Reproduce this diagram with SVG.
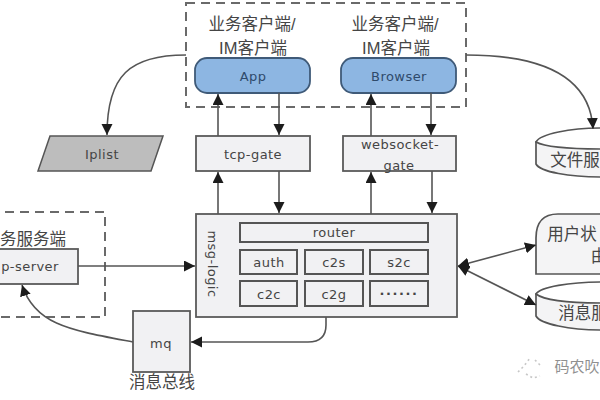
<svg xmlns="http://www.w3.org/2000/svg" width="600" height="400" viewBox="0 0 600 400">
  <style>
    text { font-family: "Liberation Sans", "Noto Sans CJK SC", sans-serif; fill: #454545; }
    .zh { font-size: 16.5px; text-anchor: middle; }
    .lat { font-family: "DejaVu Sans", "Noto Sans CJK SC", sans-serif; font-size: 13px; text-anchor: middle; letter-spacing: .45px; }
    .blue { fill: #2f4a6b; }
    .box { fill: #f1f1f3; stroke: #5a5a5a; stroke-width: 1.8; }
    .cell { fill: #f1f1f3; stroke: #555; stroke-width: 2; }
    .client { fill: #8db6e2; stroke: #3f5a78; stroke-width: 1.8; }
    .dash { fill: none; stroke: #6a6a6a; stroke-width: 2; stroke-dasharray: 9 6; }
    .wire { fill: none; stroke: #555; stroke-width: 1.6; }
    .can { fill: #f4f4f5; stroke: #555; stroke-width: 1.7; }
    .lid { fill: #fff; stroke: #555; stroke-width: 1.7; }
  </style>
  <defs>
    <marker id="tip" markerUnits="userSpaceOnUse" markerWidth="12" markerHeight="12" refX="11" refY="5.5" orient="auto-start-reverse">
      <path d="M0 0 L11 5.5 L0 11 Z" fill="#1c1c1c"/>
    </marker>
  </defs>

  <rect width="600" height="400" fill="#fff"/>

  <g id="client-zone">
    <rect class="dash" x="186" y="3" width="280" height="104"/>
    <text class="zh" x="252" y="30">业务客户端/</text>
    <text class="zh" x="253" y="54">IM客户端</text>
    <text class="zh" x="395" y="30">业务客户端/</text>
    <text class="zh" x="396" y="54">IM客户端</text>
  </g>
  <g id="app">
    <rect class="client" x="195" y="58" width="115" height="35" rx="12"/>
    <text class="lat blue" x="253" y="81">App</text>
  </g>
  <g id="browser">
    <rect class="client" x="341" y="58" width="115" height="35" rx="12"/>
    <text class="lat blue" x="399" y="81">Browser</text>
  </g>
  <g id="iplist">
    <path d="M50 136 H163 L151 171 H38 Z" fill="#bdbdbd" stroke="#555" stroke-width="1.5"/>
    <text class="lat" x="102" y="159">Iplist</text>
  </g>
  <g id="tcp-gate">
    <rect class="box" x="196" y="136" width="114" height="35"/>
    <text class="lat" x="253" y="159">tcp-gate</text>
  </g>
  <g id="websocket-gate">
    <rect class="box" x="343" y="136" width="113" height="35"/>
    <text class="lat" x="400" y="149">websocket-</text>
    <text class="lat" x="399" y="170">gate</text>
  </g>
  <g id="file-server">
    <path class="can" d="M536 142 V164 C540 172 570 177 602 177 V142 Z"/>
    <path class="lid" d="M536 142 C540 134 570 128 602 128 V149 C570 149 545 147 536 142 Z"/>
    <text class="zh" x="575" y="166">文件服</text>
  </g>
  <g id="service-zone">
    <rect class="dash" x="-10" y="212" width="115" height="105"/>
    <text class="zh" x="33" y="245">务服务端</text>
  </g>
  <g id="ip-server">
    <rect class="box" x="-10" y="249" width="88" height="35"/>
    <text class="lat" x="30" y="271">p-server</text>
  </g>
  <g id="msg-logic">
    <rect class="box" x="196" y="214" width="261" height="103"/>
    <text class="lat" transform="translate(208 264) rotate(90)">msg-logic</text>
    <rect class="cell" x="240" y="223" width="188" height="19"/>
    <text class="lat" x="334" y="237">router</text>
    <rect class="cell" x="240" y="250" width="57" height="24"/>
    <text class="lat" x="269" y="267">auth</text>
    <rect class="cell" x="305" y="250" width="58" height="24"/>
    <text class="lat" x="334" y="267">c2s</text>
    <rect class="cell" x="370" y="250" width="58" height="24"/>
    <text class="lat" x="399" y="267">s2c</text>
    <rect class="cell" x="240" y="281" width="57" height="25"/>
    <text class="lat" x="269" y="299">c2c</text>
    <rect class="cell" x="305" y="281" width="58" height="25"/>
    <text class="lat" x="334" y="299">c2g</text>
    <rect class="cell" x="370" y="281" width="58" height="25"/>
    <text class="lat" x="399" y="298" style="letter-spacing:1.6px;font-weight:bold">······</text>
  </g>
  <g id="mq">
    <rect class="box" x="133" y="311" width="57" height="61"/>
    <text class="lat" x="161" y="348">mq</text>
    <text class="zh" x="162" y="388">消息总线</text>
  </g>
  <g id="user-state">
    <path class="can" d="M602 214 H558 Q536 214 536 238 V274 H602"/>
    <text class="zh" x="572" y="240">用户状</text>
    <text class="zh" x="599" y="262">由</text>
  </g>
  <g id="msg-store">
    <path class="can" d="M536 294 V316 C540 324 570 330 602 330 V294 Z"/>
    <path class="lid" d="M536 294 C540 287 570 282 602 282 V303 C570 303 545 301 536 294 Z"/>
    <text class="zh" x="583" y="319">消息服</text>
  </g>
  <g id="watermark" opacity=".65">
    <path d="M518 372 L524 366 L530 358 M535 360 L541 366 M526 374 L533 378 L540 376" fill="none" stroke="#aaa" stroke-width="1.6" stroke-dasharray="2 3"/>
    <text class="zh" x="577" y="372" style="font-size:15px;fill:#555">码农吹</text>
  </g>

  <g id="connectors">
    <path class="wire" marker-end="url(#tip)" d="M218 136 V94"/>
    <path class="wire" marker-end="url(#tip)" d="M279 93 V135"/>
    <path class="wire" marker-end="url(#tip)" d="M371 136 V94"/>
    <path class="wire" marker-end="url(#tip)" d="M431 93 V135"/>
    <path class="wire" marker-end="url(#tip)" d="M218 214 V172"/>
    <path class="wire" marker-end="url(#tip)" d="M279 171 V213"/>
    <path class="wire" marker-end="url(#tip)" d="M371 214 V172"/>
    <path class="wire" marker-end="url(#tip)" d="M432 171 V213"/>
    <path class="wire" marker-end="url(#tip)" d="M186 55 C130 55 107 75 107 135"/>
    <path class="wire" marker-end="url(#tip)" d="M466 55 C540 55 590 75 593 129"/>
    <path class="wire" marker-end="url(#tip)" d="M78 266 H195"/>
    <path class="wire" marker-end="url(#tip)" d="M133 342 C70 330 35 325 22 285"/>
    <path class="wire" marker-end="url(#tip)" d="M326 317 V325 Q326 342 308 342 H191"/>
    <path class="wire" marker-start="url(#tip)" marker-end="url(#tip)" d="M458 266 L536 245"/>
    <path class="wire" marker-start="url(#tip)" marker-end="url(#tip)" d="M458 266 L536 305"/>
  </g>
</svg>
